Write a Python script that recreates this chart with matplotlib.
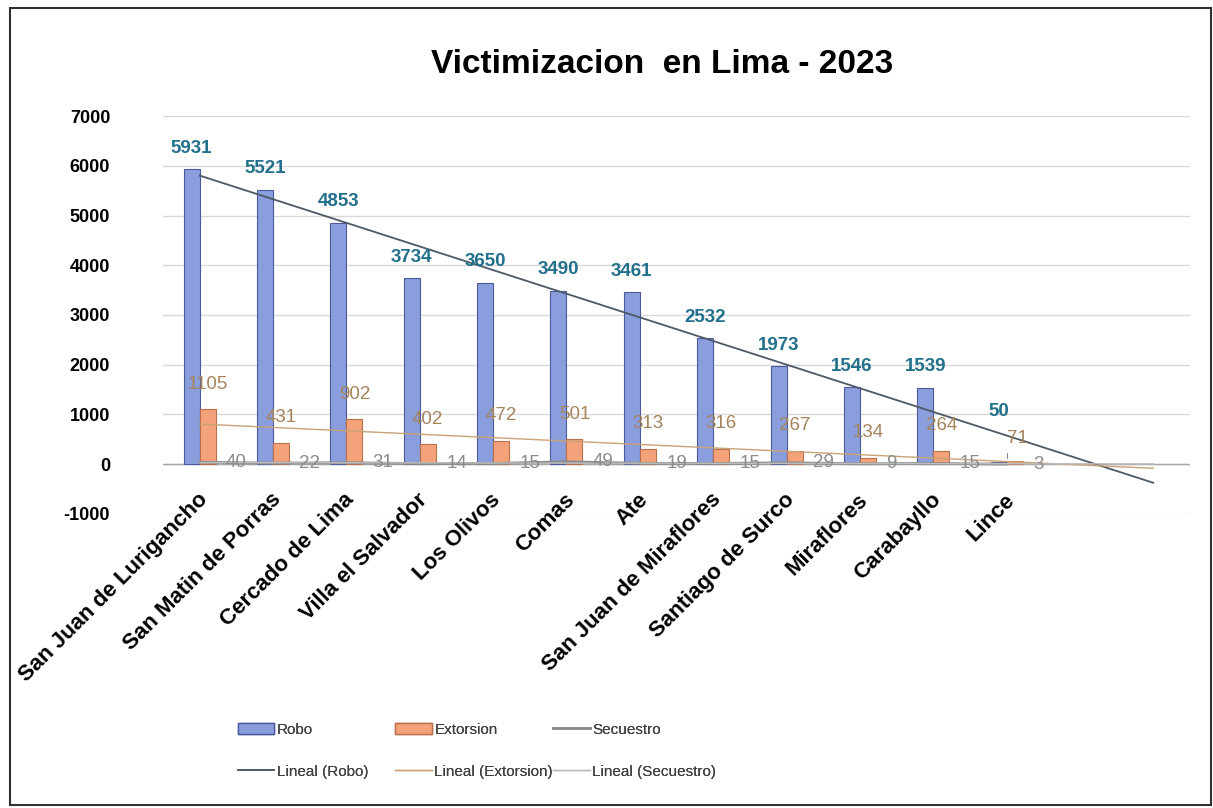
import numpy as np
import matplotlib
matplotlib.use('Agg')
import matplotlib.pyplot as plt
from matplotlib.patches import Patch
from matplotlib.lines import Line2D

plt.rcParams['font.family'] = ['Liberation Sans', 'DejaVu Sans']

distritos = ['San Juan de Lurigancho', 'San Matin de Porras', 'Cercado de Lima',
             'Villa el Salvador', 'Los Olivos', 'Comas', 'Ate',
             'San Juan de Miraflores', 'Santiago de Surco', 'Miraflores',
             'Carabayllo', 'Lince']
robo = [5931, 5521, 4853, 3734, 3650, 3490, 3461, 2532, 1973, 1546, 1539, 50]
extorsion = [1105, 431, 902, 402, 472, 501, 313, 316, 267, 134, 264, 71]
secuestro = [40, 22, 31, 14, 15, 49, 19, 15, 29, 9, 15, 3]
yticks = [-1000, 0, 1000, 2000, 3000, 4000, 5000, 6000, 7000]
forecast = 2  # trend lines extended two periods forward

c_robo = '#8a9ddc'
c_ext = '#f4a27a'
c_sec = '#8c8c8c'
c_tr_robo = '#4d5966'
c_tr_ext = '#c9a276'
c_tr_sec = '#bdbdbd'

fig = plt.figure(figsize=(12.13, 8.08), dpi=100)
fig.patches.append(plt.Rectangle((0.008, 0.004), 0.99, 0.986, transform=fig.transFigure,
                                 fill=False, edgecolor='#303030', lw=1.5))
ax = fig.add_axes([0.1344, 0.3639, 0.8466, 0.4925])

n = len(distritos)
x = np.arange(n) + 0.5
w = 0.218

ax.bar(x - w / 2, robo, w, color=c_robo, edgecolor='#4a5a9a', lw=0.8, zorder=3)
ax.bar(x + w / 2, extorsion, w, color=c_ext, edgecolor='#b8704a', lw=0.8, zorder=3)
ax.plot(x, secuestro, color=c_sec, lw=2, zorder=4)

# linear trend lines
xs = np.arange(1, n + 1)
xt = np.arange(1, n + forecast + 1)
for vals, col, lw in [(robo, c_tr_robo, 1.3), (extorsion, c_tr_ext, 1.0), (secuestro, c_tr_sec, 1.0)]:
    m, b = np.polyfit(xs, vals, 1)
    ax.plot(xt - 0.5, m * xt + b, color=col, lw=lw, zorder=5)

for i, (xi, v) in enumerate(zip(x, robo)):
    dy = 30 if i == n - 1 else 9
    ax.annotate(str(v), (xi - w / 2, v), xytext=(0, dy), textcoords='offset points',
                ha='center', va='bottom', fontsize=13.5, fontweight='bold', color='#23708c', zorder=6)
for i, (xi, v) in enumerate(zip(x, extorsion)):
    if i == n - 1:
        ax.annotate(str(v), (xi, v), xytext=(0, 16), textcoords='offset points',
                    ha='left', va='center', fontsize=13.5, color='#a5845c', zorder=6,
                    arrowprops=dict(arrowstyle='-', color='#8c8c8c', lw=0.8,
                                    connectionstyle='angle,angleA=0,angleB=90,rad=0'))
    else:
        ax.annotate(str(v), (xi + w / 2, v), xytext=(0, 12), textcoords='offset points',
                    ha='center', va='bottom', fontsize=13.5, color='#a5845c', zorder=6)
for xi, v in zip(x, secuestro):
    ax.annotate(str(v), (xi, v), xytext=(19, 0), textcoords='offset points',
                ha='left', va='center', fontsize=13.5, color='#8c8c8c', zorder=6)

ax.set_xlim(0, n + forecast)
ax.set_ylim(-1000, 7000)
ax.set_yticks(yticks)
ax.set_yticklabels([str(t) for t in yticks], fontsize=13, fontweight='bold')
ax.tick_params(axis='y', length=0, pad=38)
ax.set_xticks([])
ax.grid(axis='y', color='#d9d9d9', lw=1, zorder=0)
ax.axhline(0, color='#a6a6a6', lw=1, zorder=2)
for s in ax.spines.values():
    s.set_visible(False)

for xi, name in zip(x, distritos):
    ax.annotate(name, (xi, 0), xytext=(-2, -18), textcoords='offset points',
                ha='right', va='top', rotation=45, rotation_mode='anchor',
                fontsize=16, fontweight='bold', annotation_clip=False)

fig.text(0.546, 0.92, 'Victimizacion  en Lima - 2023', ha='center', va='center',
         fontsize=24, fontweight='bold')

# legend: three columns placed separately, like the Excel layout
cols = [([Patch(facecolor=c_robo, edgecolor='#4a5a9a'), Line2D([], [], color=c_tr_robo, lw=1.2)],
         ['Robo', 'Lineal (Robo)'], 0.196),
        ([Patch(facecolor=c_ext, edgecolor='#b8704a'), Line2D([], [], color=c_tr_ext, lw=1.0)],
         ['Extorsion', 'Lineal (Extorsion)'], 0.326),
        ([Line2D([], [], color=c_sec, lw=2), Line2D([], [], color=c_tr_sec, lw=1.0)],
         ['Secuestro', 'Lineal (Secuestro)'], 0.456)]
for hs, ls, xpos in cols:
    leg = fig.legend(hs, ls, loc='center left', bbox_to_anchor=(xpos, 0.071), frameon=False,
                     fontsize=11, labelcolor='#404040', handlelength=2.4, handletextpad=0.15,
                     labelspacing=1.85, borderpad=0, borderaxespad=0)
    fig.add_artist(leg)

fig.savefig('out.png', dpi=100)
